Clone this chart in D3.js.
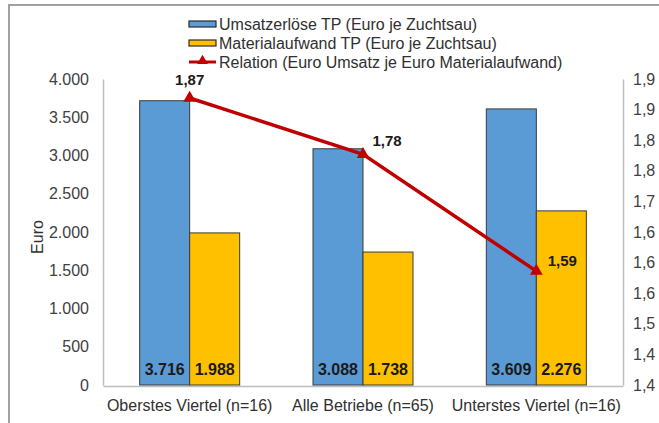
<!DOCTYPE html>
<html>
<head>
<meta charset="utf-8">
<script src="https://cdn.jsdelivr.net/npm/d3@7"></script>
<style>
  body { margin: 0; background: #fff; }
  text { font-family: "Liberation Sans", Arial, sans-serif; }
  text.narrow { font-family: "Liberation Sans Narrow", "Arial Narrow", "Liberation Sans", sans-serif; }
</style>
</head>
<body>
<div id="chart"></div>
<script>
var categories = ["Oberstes Viertel (n=16)", "Alle Betriebe (n=65)", "Unterstes Viertel (n=16)"];
var umsatz = [3716, 3088, 3609];
var material = [1988, 1738, 2276];
var relation = [1.869, 1.777, 1.586];
var leftTicks = [0, 500, 1000, 1500, 2000, 2500, 3000, 3500, 4000];
var rightTicks = [1.4, 1.45, 1.5, 1.55, 1.6, 1.65, 1.7, 1.75, 1.8, 1.85, 1.9];
var legendLabels = ["Umsatzerlöse TP (Euro je Zuchtsau)", "Materialaufwand TP (Euro je Zuchtsau)", "Relation (Euro Umsatz je Euro Materialaufwand)"];

var width = 659, height = 423;
var mLeft = 103, mRight = 623, mTop = 79, mBottom = 385;
var blue = "#5B9BD5", yellow = "#FFC000", red = "#C00000";

var svg = d3.select("#chart").append("svg")
    .attr("width", width)
    .attr("height", height);

// outer frame (only top and left visible)
svg.append("path")
    .attr("d", "M9," + height + "V5H" + width)
    .attr("fill", "none")
    .attr("stroke", "#a0a0a0")
    .attr("stroke-width", 2);

var x = d3.scaleBand().domain(categories).range([mLeft, mRight]);
var y = d3.scaleLinear().domain([0, 4000]).range([mBottom, mTop]);
var y2 = d3.scaleLinear().domain([1.4, 1.9]).range([mBottom, mTop]);
var barW = 50;

var fmtDE = d3.formatLocale({decimal: ",", thousands: ".", grouping: [3], currency: ["", " €"]});
var fmtThousands = fmtDE.format(",d");
var fmtRel1 = fmtDE.format(".1f");
var fmtRel2 = fmtDE.format(".2f");

// axes
var yAxis = svg.append("g")
    .attr("transform", "translate(" + mLeft + ",0)")
    .call(d3.axisLeft(y).tickValues(leftTicks).tickFormat(fmtThousands).tickSize(0).tickPadding(14));
var y2Axis = svg.append("g")
    .attr("transform", "translate(" + mRight + ",0)")
    .call(d3.axisRight(y2).tickValues(rightTicks).tickFormat(fmtRel1).tickSize(0).tickPadding(10));
var xAxis = svg.append("g")
    .attr("transform", "translate(0," + (mBottom + 1) + ")")
    .call(d3.axisBottom(x).tickSize(0).tickPadding(14));

[yAxis, y2Axis, xAxis].forEach(function (g) {
    g.select(".domain").attr("stroke", "#bdbdbd").attr("stroke-width", 1.5);
    g.selectAll("text")
        .attr("fill", "#404040")
        .style("font-size", "16px");
});
xAxis.selectAll("text").attr("fill", "#303030");

// y axis title
svg.append("text")
    .attr("transform", "translate(43,237) rotate(-90)")
    .attr("text-anchor", "middle")
    .style("font-size", "16px")
    .attr("fill", "#303030")
    .text("Euro");

// bars
var groups = svg.append("g").selectAll("g")
    .data(categories)
    .enter().append("g");

groups.append("rect")
    .attr("x", function (d) { return x(d) + x.bandwidth() / 2 - barW; })
    .attr("y", function (d, i) { return y(umsatz[i]); })
    .attr("width", barW)
    .attr("height", function (d, i) { return y(0) - y(umsatz[i]); })
    .attr("fill", blue)
    .attr("stroke", "#3a3a3a")
    .attr("stroke-width", 1);

groups.append("rect")
    .attr("x", function (d) { return x(d) + x.bandwidth() / 2; })
    .attr("y", function (d, i) { return y(material[i]); })
    .attr("width", barW)
    .attr("height", function (d, i) { return y(0) - y(material[i]); })
    .attr("fill", yellow)
    .attr("stroke", "#3a3a3a")
    .attr("stroke-width", 1);

groups.append("text")
    .attr("class", "narrow")
    .attr("x", function (d) { return x(d) + x.bandwidth() / 2 - barW / 2; })
    .attr("y", mBottom - 10)
    .attr("text-anchor", "middle")
    .style("font-size", "16px")
    .style("font-weight", "bold")
    .attr("fill", "#1a1a1a")
    .text(function (d, i) { return fmtThousands(umsatz[i]); });

groups.append("text")
    .attr("class", "narrow")
    .attr("x", function (d) { return x(d) + x.bandwidth() / 2 + barW / 2; })
    .attr("y", mBottom - 10)
    .attr("text-anchor", "middle")
    .style("font-size", "16px")
    .style("font-weight", "bold")
    .attr("fill", "#1a1a1a")
    .text(function (d, i) { return fmtThousands(material[i]); });

// relation line
var line = d3.line()
    .x(function (d, i) { return x(categories[i]) + x.bandwidth() / 2; })
    .y(function (d) { return y2(d); });

svg.append("path")
    .datum(relation)
    .attr("d", line)
    .attr("fill", "none")
    .attr("stroke", red)
    .attr("stroke-width", 3.5);

var tri = d3.symbol().type(d3.symbolTriangle).size(70);
svg.append("g").selectAll("path")
    .data(relation)
    .enter().append("path")
    .attr("d", tri)
    .attr("transform", function (d, i) {
        return "translate(" + (x(categories[i]) + x.bandwidth() / 2) + "," + y2(d) + ")";
    })
    .attr("fill", red);

var labelOff = [[0, -13], [24, -8], [26, -5]];
svg.append("g").selectAll("text")
    .data(relation)
    .enter().append("text")
    .attr("x", function (d, i) { return x(categories[i]) + x.bandwidth() / 2 + labelOff[i][0]; })
    .attr("y", function (d, i) { return y2(d) + labelOff[i][1]; })
    .attr("text-anchor", "middle")
    .style("font-size", "15px")
    .style("font-weight", "bold")
    .attr("fill", "#1a1a1a")
    .text(function (d) { return fmtRel2(d); });

// legend
var legend = svg.append("g").attr("transform", "translate(189,24)");
var items = legend.selectAll("g")
    .data(legendLabels)
    .enter().append("g")
    .attr("transform", function (d, i) { return "translate(0," + (i * 19) + ")"; });

items.filter(function (d, i) { return i < 2; })
    .append("rect")
    .attr("x", 0)
    .attr("y", -3)
    .attr("width", 27)
    .attr("height", 6)
    .attr("fill", function (d, i) { return i === 0 ? blue : yellow; })
    .attr("stroke", "#2a2a2a")
    .attr("stroke-width", 1.2);

var lineItem = items.filter(function (d, i) { return i === 2; });
lineItem.append("line")
    .attr("x1", 0).attr("x2", 27)
    .attr("y1", 0).attr("y2", 0)
    .attr("stroke", red)
    .attr("stroke-width", 3);
lineItem.append("path")
    .attr("d", d3.symbol().type(d3.symbolTriangle).size(50))
    .attr("transform", "translate(13.5,-1)")
    .attr("fill", red);

items.append("text")
    .attr("x", 30)
    .attr("y", 0)
    .attr("dy", "0.35em")
    .style("font-size", "16px")
    .attr("fill", "#303030")
    .text(function (d) { return d; });
</script>
</body>
</html>
